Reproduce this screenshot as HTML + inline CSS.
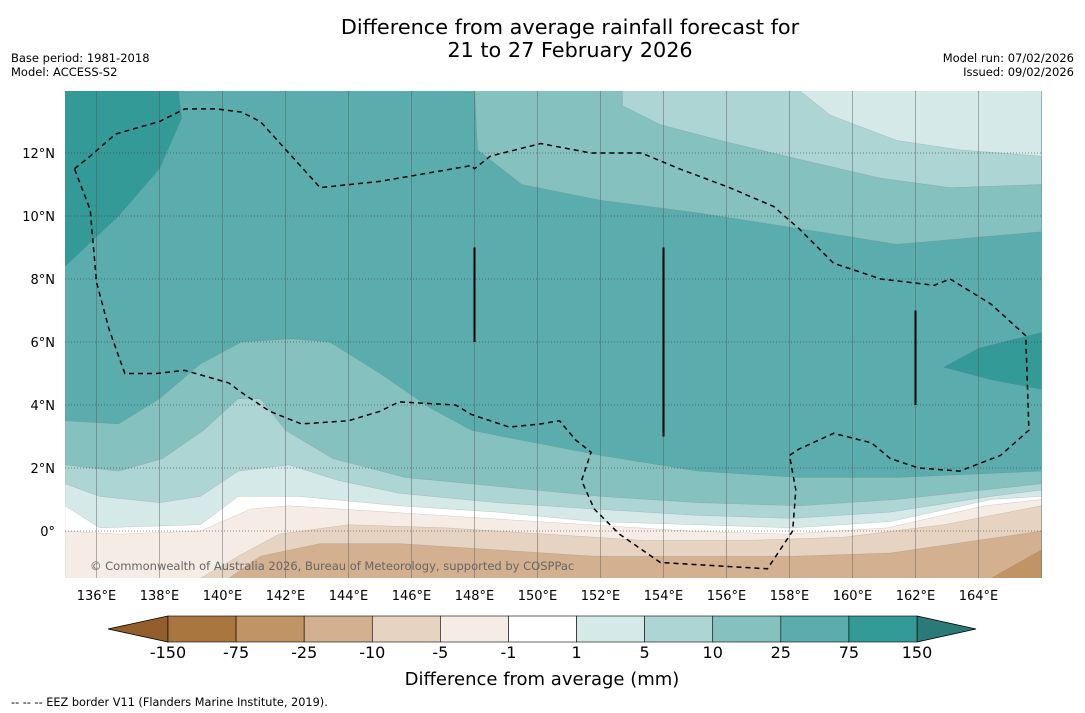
<!DOCTYPE html>
<html><head><meta charset="utf-8"><style>
body{margin:0;background:#fff;}
svg{display:block;font-family:"DejaVu Sans","Liberation Sans",sans-serif;}
</style></head><body>
<svg id="c" width="1085" height="713" viewBox="0 0 1085 713">
<text x="570" y="34" font-size="20.8" text-anchor="middle">Difference from average rainfall forecast for</text>
<text x="570" y="57" font-size="20.8" text-anchor="middle">21 to 27 February 2026</text>
<text x="11" y="62" font-size="11.5">Base period: 1981-2018</text>
<text x="11" y="76" font-size="11.5">Model: ACCESS-S2</text>
<text x="1074" y="62" font-size="11.5" text-anchor="end">Model run: 07/02/2026</text>
<text x="1074" y="76" font-size="11.5" text-anchor="end">Issued: 09/02/2026</text>
<defs><clipPath id="clip"><rect x="65" y="91" width="977" height="487"/></clipPath></defs>
<g id="map" clip-path="url(#clip)"></g>
<g id="axes"></g>
<g id="cbar"></g>
<text x="542" y="685" font-size="18" text-anchor="middle">Difference from average (mm)</text>
<text x="11" y="706" font-size="11.3">--  --  -- EEZ border V11 (Flanders Marine Institute, 2019).</text>
</svg>
<script>
const lonTicks=[136,138,140,142,144,146,148,150,152,154,156,158,160,162,164];
const latTicks=[0,2,4,6,8,10,12];
const levels=["-150","-75","-25","-10","-5","-1","1","5","10","25","75","150"];
const levelColors=["#aa763f","#c09464","#d3b08f","#e6d3c1","#f5ece6","#ffffff","#d5e9e8","#acd5d4","#85c1bf","#5aadac","#339a97"];
const lowArrowColor="#935e2b", highArrowColor="#2a7a78";
const backgroundBand="#5aadac";
const bands=[
 {c:"#339a97",p:[[135,14],[138.6,14],[138.7,13.1],[138,11.5],[136.7,10],[135,8.4]]},
 {c:"#339a97",p:[[166,6.3],[164,5.8],[162.9,5.2],[164.4,4.8],[166,4.5]]},
 {c:"#85c1bf",p:[[148,14],[148.1,12.1],[149.5,11],[152,10.5],[155.1,10.1],[158.3,9.6],[161.4,9.1],[166,9.5],[166,14]]},
 {c:"#acd5d4",p:[[152.7,14],[152.7,13.5],[153.9,12.9],[155.8,12.4],[158.3,11.8],[160.9,11.2],[163.1,10.9],[166,11],[166,14]]},
 {c:"#d5e9e8",p:[[158.3,14],[159.3,13.2],[161.4,12.4],[163.4,12.1],[166,11.9],[166,14]]},
 {c:"#85c1bf",p:[[135,3.5],[136.7,3.4],[138,4.2],[139.3,5.3],[140.6,6],[142.2,6.1],[143.4,6],[145,5],[146.6,3.9],[147.9,3.2],[149.4,2.9],[152,2.4],[155.1,1.9],[158.3,1.7],[161.4,1.7],[166,1.9],[166,-1.5],[135,-1.5]]},
 {c:"#acd5d4",p:[[135,2.1],[136.7,1.9],[138.1,2.3],[139.4,3.2],[140.5,4.2],[141.2,4.2],[142,3.2],[143.5,2.3],[145.8,1.7],[148.9,1.4],[152,1.1],[155.1,0.9],[158.3,0.8],[161.4,1],[166,1.5],[166,-1.5],[135,-1.5]]},
 {c:"#d5e9e8",p:[[135,1.5],[136.1,1.1],[138,0.9],[139.3,1.1],[140.5,1.9],[142.1,2.1],[143.7,1.6],[145.6,1.2],[148.7,0.9],[151.8,0.7],[155,0.5],[158.1,0.4],[161.2,0.6],[164.4,1.1],[166,1.3],[166,-1.5],[135,-1.5]]},
 {c:"#ffffff",p:[[135,0.8],[136.1,0.1],[139.3,0.2],[140.5,1.1],[142.4,1.1],[145.6,0.8],[148.7,0.6],[151.8,0.3],[155,0.2],[158.1,0.1],[161.2,0.3],[164.4,1],[166,1.1],[166,-1.5],[135,-1.5]]},
 {c:"#f5ece6",p:[[135,0],[136.7,-0.1],[139.3,0],[140.9,0.7],[142.1,0.8],[145.3,0.6],[148.4,0.4],[151.6,0.2],[154.8,0],[157.9,-0.1],[161.1,0.1],[164.2,0.8],[166,1],[166,-1.5],[135,-1.5]]},
 {c:"#e6d3c1",p:[[139.3,-1.5],[140.5,-0.8],[141.8,-0.1],[144,0.2],[147.1,0.1],[150.3,-0.1],[153.4,-0.3],[156.6,-0.3],[159.7,-0.2],[162.9,0.2],[166,0.8],[166,-1.5]]},
 {c:"#d3b08f",p:[[140.2,-1.5],[141.2,-0.8],[143.1,-0.4],[145.6,-0.4],[148.7,-0.6],[151.8,-0.8],[155,-0.8],[158.1,-0.8],[161.2,-0.7],[166,0],[166,-1.5]]},
 {c:"#c09464",p:[[164.4,-1.5],[166,-0.6],[166,-1.5]]}
];
const eez=[[135.3,11.5],[135.8,11.9],[136.6,12.6],[138,13],[138.8,13.4],[139.8,13.4],[140.6,13.3],[141.2,13],[143.1,10.9],[145,11.1],[147.9,11.6],[148,11.5],[148.5,11.9],[150.1,12.3],[151.7,12],[153.3,12],[154.5,11.5],[156.1,10.9],[157.5,10.3],[158.3,9.6],[159.4,8.5],[160.9,8],[162.6,7.8],[163.1,8],[164.4,7.2],[165.5,6.2],[165.6,3.2],[164.7,2.4],[163.4,1.9],[162.1,2],[161.2,2.3],[160.6,2.8],[159.4,3.1],[158.3,2.6],[158,2.4],[158.2,1.3],[158.1,0],[157.3,-1.2],[153.9,-1],[152.6,-0.1],[151.8,0.7],[151.4,1.6],[151.7,2.5],[151.2,2.9],[150.7,3.5],[150.1,3.4],[149.1,3.3],[147.9,3.7],[147.4,4],[145.6,4.1],[145,3.8],[144,3.5],[142.5,3.4],[141.5,3.8],[140.6,4.4],[140.2,4.7],[138.8,5.1],[137.9,5],[136.9,5],[136.4,6.4],[136,7.9],[135.8,10.2],[135.3,11.5]];
const segs=[[148,9,6],[154,9,3],[162,7,4]];

const NS="http://www.w3.org/2000/svg";
const X=lon=>65+(lon-135)*31.5, Y=lat=>531-lat*31.5;
function mk(t,a,parent){const e=document.createElementNS(NS,t);for(const k in a)e.setAttribute(k,a[k]);parent.appendChild(e);return e;}
const map=document.getElementById('map'), axes=document.getElementById('axes'), cb=document.getElementById('cbar');
let bg=mk('rect',{x:65,y:91,width:977,height:487,fill:backgroundBand},map);


bands.forEach((b,i)=>{
 const e=mk('polygon',{points:b.p.map(q=>X(q[0])+','+Y(q[1])).join(' '),fill:b.c,stroke:'#6a6a6a','stroke-width':0.3,'stroke-opacity':0.5},map);
 
 
});
lonTicks.forEach(l=>{
 const g=mk('line',{x1:X(l),x2:X(l),y1:91,y2:578,stroke:'#555','stroke-width':0.8,'stroke-opacity':0.55},map);
 
 
 const t=mk('text',{x:X(l),y:600,'font-size':13,'text-anchor':'middle'},axes);
 t.textContent=l+'°E';
 
 
});
latTicks.forEach(l=>{
 const g=mk('line',{x1:65,x2:1042,y1:Y(l),y2:Y(l),stroke:'#333','stroke-width':0.8,'stroke-dasharray':'1,2','stroke-opacity':0.7},map);
 
 
 const t=mk('text',{x:55,y:Y(l)+5,'font-size':13,'text-anchor':'end'},axes);
 t.textContent=l+'°'+(l>0?'N':'');
 
 
});
let ez=mk('polyline',{points:eez.map(q=>X(q[0])+','+Y(q[1])).join(' '),fill:'none',stroke:'#000','stroke-width':1.5,'stroke-dasharray':'5,4'},map);


segs.forEach(s=>{
 const e=mk('line',{x1:X(s[0]),x2:X(s[0]),y1:Y(s[1]),y2:Y(s[2]),stroke:'#000','stroke-width':2},map);
 
 
});
let cp=mk('text',{x:90,y:570,'font-size':11.5,fill:'#666'},map);
cp.textContent='© Commonwealth of Australia 2026, Bureau of Meteorology, supported by COSPPac';


const cx0=168,cw=(917-168)/levelColors.length,cy=616,ch=26;
let la=mk('polygon',{points:`108,${cy+ch/2} ${cx0},${cy} ${cx0},${cy+ch}`,fill:lowArrowColor,stroke:'#000','stroke-width':0.8},cb);


let ha=mk('polygon',{points:`976,${cy+ch/2} 917,${cy} 917,${cy+ch}`,fill:highArrowColor,stroke:'#000','stroke-width':0.8},cb);


levelColors.forEach((c,i)=>{
 const r=mk('rect',{x:cx0+i*cw,y:cy,width:cw,height:ch,fill:c,stroke:'#000','stroke-width':0.6},cb);
 
 
});
levels.forEach((l,i)=>{
 const t=mk('text',{x:cx0+i*cw,y:658,'font-size':16,'text-anchor':'middle'},cb);
 t.textContent=l;
 
 
});
</script>
</body></html>
